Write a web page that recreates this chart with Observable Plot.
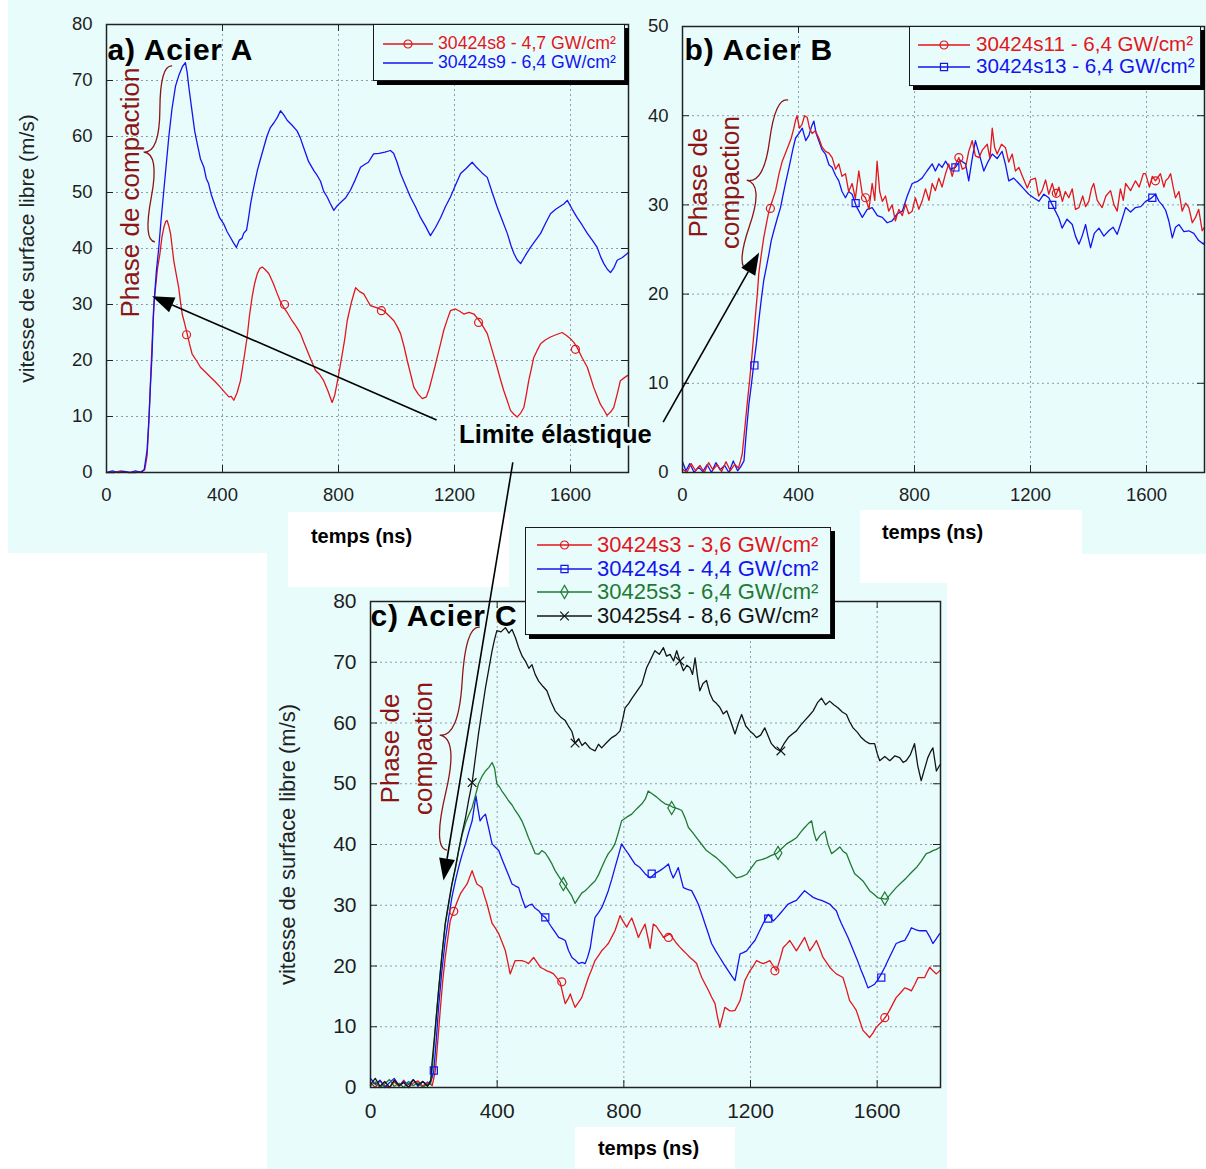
<!DOCTYPE html>
<html><head><meta charset="utf-8">
<script src="https://cdn.jsdelivr.net/npm/d3@7"></script>
<script src="https://cdn.jsdelivr.net/npm/@observablehq/plot@0.6"></script>
<style>
body{margin:0;background:#fff;font-family:"Liberation Sans",Arial,Helvetica,sans-serif;}
#page{position:relative;width:1206px;height:1169px;overflow:hidden;background:#fff;}
.bg{position:absolute;background:#e8fcfc;}
.wh{position:absolute;background:#fff;}
.holder{position:absolute;}
.holder svg{max-width:none;overflow:visible;}
.legend{position:absolute;background:#e8fcfc;border:1.5px solid #1a1a1a;box-shadow:4px 4px 0 #000;box-sizing:border-box;}
.legend .row{position:absolute;left:0;height:0;}
.legend .row span{position:absolute;white-space:nowrap;transform:translateY(-52%);line-height:1;}
.legend .row svg{position:absolute;overflow:visible;}
</style></head>
<body><div id="page">
<div class="bg" style="left:8px;top:0;width:632px;height:553px"></div>
<div class="bg" style="left:640px;top:0;width:566px;height:554px"></div>
<div class="bg" style="left:267px;top:553px;width:680px;height:616px"></div>
<div class="wh" style="left:288px;top:512px;width:221px;height:75px"></div>
<div class="wh" style="left:860px;top:510px;width:222px;height:73px"></div>
<div class="wh" style="left:575px;top:1127px;width:160px;height:42px"></div>
<div class="holder" id="pa" style="left:0;top:0;width:640px;height:553px"></div>
<div class="holder" id="pb" style="left:640px;top:0;width:566px;height:553px"></div>
<div class="holder" id="pc" style="left:267px;top:553px;width:680px;height:616px"></div>
</div>
<script>
// ---------------- DATA (time in ns, velocity in m/s) ----------------
const xTicks = [0, 400, 800, 1200, 1600];
const yTicksA = [0, 10, 20, 30, 40, 50, 60, 70, 80];
const yTicksB = [0, 10, 20, 30, 40, 50];
const yTicksC = [0, 10, 20, 30, 40, 50, 60, 70, 80];

// a) Acier A
const a_30424s8 = [[0,0],[25,0],[50,0.3],[75,0],[100,0],[120,0.2],[132,0.5],[140,3],[147,10],[153,18],[158,24],[163,30],[169,33],[176,36.5],[184,39],[191,42],[198,43.8],[204,44.8],[209,45],[215,44],[221,42.6],[227,40],[232,37.8],[240,35.5],[249,33],[255,30.5],[261,28.3],[270,26.5],[278,24.8],[286,23],[295,21.2],[310,20],[324,18.8],[340,18],[359,17],[375,16.2],[393,15.2],[408,14.3],[422,13.5],[430,13.6],[439,12.9],[450,14.2],[462,16.4],[473,20],[485,24.2],[493,28],[502,31.3],[511,33.8],[520,35.5],[528,36.4],[537,36.7],[548,36.2],[560,35.5],[575,33.8],[589,31.9],[600,30.5],[611,29.5],[625,28.4],[640,27.1],[655,26],[669,24.8],[680,23.3],[692,21.8],[706,20],[721,18.2],[735,17.5],[749,16.4],[764,14.5],[778,12.5],[787,13.8],[795,15.9],[804,18.5],[813,21.2],[822,24],[830,27.1],[845,30.5],[859,33],[873,32.3],[887,31.9],[898,30.9],[910,29.8],[933,29.4],[956,28.9],[974,28],[991,27.1],[1003,26],[1014,24.8],[1026,22.5],[1037,20],[1049,17.5],[1060,15.2],[1075,14],[1089,13.2],[1103,13.5],[1113,15],[1123,17],[1132,18.8],[1140,20.5],[1152,23],[1163,25.4],[1175,27.3],[1186,28.9],[1203,29.2],[1218,28.8],[1232,28.3],[1250,28.6],[1267,28.3],[1290,26.8],[1313,24.8],[1330,21.8],[1347,18.8],[1358,16.7],[1370,14.6],[1382,12.8],[1393,11.1],[1405,10.4],[1416,9.9],[1428,10.6],[1439,11.6],[1448,14],[1456,16.4],[1465,18.5],[1473,20.5],[1485,21.8],[1497,23],[1514,23.7],[1531,24.2],[1550,24.6],[1571,25],[1585,24.5],[1600,23.9],[1612,23.2],[1623,22.3],[1640,20.5],[1658,18.8],[1669,17],[1680,15.2],[1692,13.6],[1703,12.2],[1715,11.2],[1726,10.2],[1738,10.8],[1749,11.6],[1761,14],[1772,16.4],[1785,16.9],[1796,17.3],[1800,17.4]];
const a_30424s9 = [[0,0],[20,0.3],[40,0],[60,0.2],[80,0],[100,0.3],[120,0],[130,0.5],[140,4],[146,9.3],[152,16],[157,21],[161,27],[165,31],[172,36],[180,40],[188,45],[197,50],[206,55],[215,60],[226,65],[238,69],[250,71],[262,72.5],[272,73.2],[278,71.5],[284,68.8],[295,64.5],[304,61],[313,58.7],[324,56],[336,54.5],[344,52.5],[352,51.6],[362,49.5],[376,47.4],[390,45.5],[404,44.4],[416,43],[427,42],[438,41],[448,40.2],[458,41.5],[467,41.8],[473,42.7],[483,43.3],[490,45.5],[497,48],[508,51],[520,53.9],[530,55.8],[542,58],[553,60],[565,61.6],[578,62.5],[590,63.5],[600,64.6],[612,63.8],[623,62.9],[640,62],[657,61],[668,59.8],[680,58],[697,55.5],[715,53.9],[727,53],[738,52],[749,50.2],[761,49.2],[772,48],[784,46.8],[795,47.6],[807,48.2],[824,49],[841,50.4],[858,52.3],[876,54.5],[890,55],[903,55.4],[921,56.9],[940,57],[960,57.2],[979,57.5],[990,57],[1002,55.4],[1014,53.4],[1031,51.3],[1048,49.2],[1066,47.4],[1083,45.5],[1100,44],[1117,42.3],[1135,43.8],[1152,45.5],[1169,47.5],[1186,49.2],[1204,51.4],[1221,53.4],[1240,54.3],[1261,55.4],[1276,54.5],[1295,53.5],[1313,52.7],[1330,50],[1347,47.4],[1365,45],[1382,42.7],[1395,40.5],[1405,39.1],[1416,38],[1428,37.3],[1445,38.8],[1462,40.2],[1480,41.5],[1497,42.7],[1514,44.5],[1531,46.2],[1549,47],[1566,47.6],[1578,48],[1589,48.6],[1606,47],[1623,45.5],[1640,44.2],[1658,42.7],[1675,41.5],[1692,40.2],[1704,38.5],[1715,37.3],[1727,36.3],[1738,35.7],[1750,36.6],[1761,37.9],[1779,38.4],[1796,39.1],[1800,39.3]];
const a_30424s8_markers = [[276,24.6],[614,30],[948,28.9],[1283,26.8],[1617,22]];

// b) Acier B
const b_30424s11 = [[0,0.4],[15,0],[30,1.0],[45,0.2],[60,0.8],[75,0],[90,1.1],[105,0.3],[120,0.9],[135,0.1],[150,1.2],[165,0.2],[180,0.9],[193,0.5],[200,1.3],[206,2.1],[215,5],[223,7.7],[232,10.5],[240,13.3],[246,15.5],[252,17.8],[258,20],[263,22.3],[272,24.5],[280,26.3],[290,28],[298,29.3],[310,30.5],[321,31.6],[333,33.5],[344,34.9],[355,35.8],[367,36.8],[375,37.5],[384,38.6],[390,39.5],[395,40],[403,38.6],[412,39],[421,40],[430,39.8],[438,38.6],[447,38],[458,38.3],[470,37.5],[481,36.5],[493,36],[505,35.8],[516,35.3],[528,34],[539,34.6],[550,33.2],[562,33.5],[573,31.5],[585,32.4],[596,30.7],[608,33.8],[620,31.2],[631,30.8],[643,29.5],[654,32.4],[663,30.5],[671,34.9],[680,31.5],[689,30.4],[700,31],[711,29.3],[723,30],[734,28.2],[746,29.5],[758,28.8],[769,30.1],[780,29],[792,29.3],[803,30.8],[815,29.5],[826,30.4],[838,31.8],[850,30.5],[861,32.4],[872,31.6],[884,33],[895,32],[907,33.5],[918,34.6],[930,33.2],[941,34.5],[953,35.3],[965,34],[976,34.2],[987,36],[999,37.2],[1010,35.5],[1022,35.3],[1035,36.2],[1051,36.8],[1060,35.2],[1068,38.6],[1076,36.5],[1085,35.7],[1100,36.8],[1114,36.4],[1125,34.8],[1137,35.7],[1148,33.8],[1160,34.2],[1175,33],[1189,31.9],[1200,32.8],[1217,33],[1228,31],[1240,31.6],[1252,32.8],[1263,31.2],[1275,32.4],[1287,31],[1298,32],[1310,30.4],[1320,31.5],[1332,30.8],[1344,31.8],[1355,29.5],[1367,29.7],[1380,31],[1390,29.8],[1401,30.4],[1410,31.8],[1418,32.4],[1430,30.5],[1447,29.7],[1460,31],[1476,31.6],[1488,30],[1499,29.3],[1510,31.8],[1520,30.5],[1528,32.4],[1545,31.6],[1562,32.7],[1575,32],[1589,33.5],[1597,33.5],[1610,32],[1620,33.2],[1631,32.7],[1648,33.5],[1660,32],[1666,32.7],[1675,33],[1683,33.5],[1692,32],[1700,30.8],[1712,31.5],[1723,29.3],[1735,30.2],[1746,29.7],[1758,28],[1769,28.6],[1780,29.5],[1792,27.1],[1800,27.5]];
const b_30424s13 = [[0,1.2],[12,0.2],[25,1.0],[40,0],[55,0.6],[70,0.1],[85,0.9],[100,0],[115,1.1],[130,0.3],[145,0.8],[160,0],[175,1.3],[190,0.2],[200,0.6],[212,1.3],[220,4.5],[229,7.7],[238,10],[246,12.2],[255,14.5],[263,17],[272,19.5],[280,21.5],[289,23],[298,24.5],[306,26],[315,27.1],[327,28.5],[338,29.7],[346,31],[355,32.4],[364,33.7],[372,34.9],[381,36.3],[390,37.5],[401,38],[413,38.6],[425,37.2],[436,37.8],[445,38.8],[453,39.4],[461,38],[470,37.2],[481,36.2],[493,35.7],[505,34.5],[516,34.2],[528,33.3],[539,32.7],[550,31.5],[562,30.8],[573,31.5],[585,31.2],[600,29.8],[620,28.6],[637,29.5],[654,29.7],[672,28.8],[689,28.6],[706,28],[723,28.2],[740,29],[758,29.3],[775,31],[792,32.4],[809,32.6],[826,33],[843,33.8],[861,34.6],[872,33.8],[884,34.6],[895,34.2],[907,34.9],[924,34],[941,34.2],[958,35],[976,34.6],[987,32.7],[998,35],[1010,37.2],[1025,35.5],[1039,33.8],[1053,34.8],[1068,35.7],[1085,35.2],[1102,36],[1114,34.5],[1125,32.7],[1142,33],[1160,32.4],[1177,31.8],[1194,31.2],[1211,30.8],[1229,30.4],[1246,31.2],[1263,30.8],[1275,30],[1286,29.3],[1298,28.5],[1309,27.4],[1326,28.4],[1344,27.8],[1355,26.5],[1367,25.6],[1378,26.5],[1390,27.8],[1398,26.5],[1407,25.2],[1420,26.8],[1436,27.4],[1453,26.5],[1470,27.1],[1485,27.5],[1499,26.7],[1514,28.2],[1528,29.7],[1545,29.2],[1562,29.7],[1580,29.8],[1597,30.4],[1614,30.7],[1631,31.2],[1643,30.4],[1654,30],[1666,29.4],[1677,28.2],[1689,26.3],[1700,27.5],[1712,27.8],[1729,27],[1746,27.1],[1763,26.8],[1780,26],[1797,25.6],[1800,25.8]];
const b_30424s11_markers = [[303,29.6],[631,30.8],[953,35.3],[1289,31.3],[1631,32.7]];
const b_30424s13_markers = [[248,12.0],[597,30.2],[941,34.2],[1275,30],[1620,30.8]];

// c) Acier C
const c_30424s3 = [[0,0.8],[15,0],[30,1.1],[45,0.3],[60,0],[75,0.9],[90,0.2],[105,1.2],[120,0],[135,0.7],[150,1.1],[165,0.2],[180,0.9],[195,0.3],[205,2.8],[213,8],[221,13.2],[228,17.5],[236,21.4],[244,24.5],[252,27.5],[263,29.1],[273,30.5],[284,31.9],[294,32.7],[305,33.5],[313,34.6],[321,35.7],[328,34.6],[336,33.5],[344,33.2],[352,32.9],[360,31.5],[368,30.2],[376,28.6],[384,27],[395,26.2],[405,25.3],[415,24],[426,22.5],[434,20.5],[441,18.7],[449,19.8],[457,20.9],[468,20.9],[478,20.9],[489,20.7],[499,20.4],[507,20.9],[515,21.4],[526,20.6],[536,19.8],[547,19.5],[557,19.2],[568,19],[578,18.7],[589,18],[599,17.3],[607,15.5],[615,13.8],[623,14.5],[631,15.4],[638,14.3],[646,13.2],[657,14],[667,14.8],[678,16.5],[688,18.1],[699,19.5],[709,20.9],[720,21.7],[730,22.5],[741,23.1],[751,23.7],[762,24.8],[772,25.8],[780,27],[788,28.3],[798,27.3],[809,26.4],[817,27.2],[825,27.9],[836,26.3],[846,24.7],[856,25.8],[867,26.9],[875,24.9],[883,22.9],[893,26.9],[903,26.5],[909,26],[917,25.4],[925,24.7],[935,25],[946,25.3],[956,24.5],[967,23.7],[977,23.1],[988,22.5],[998,22],[1009,21.4],[1020,20.9],[1030,20.4],[1038,19.2],[1046,18.1],[1057,17],[1067,16],[1077,14.9],[1088,13.8],[1095,11.8],[1103,9.9],[1111,11.5],[1119,13.2],[1127,12.9],[1135,12.6],[1143,12.6],[1151,12.7],[1159,13.5],[1167,14.3],[1175,16],[1182,17.6],[1190,18.4],[1198,19.2],[1209,20],[1219,20.9],[1230,20.6],[1240,20.4],[1250,20.6],[1261,20.9],[1272,20],[1282,19.2],[1293,21.1],[1303,23],[1314,23.6],[1324,24.2],[1335,23.3],[1345,22.5],[1358,23.6],[1371,24.7],[1379,23.6],[1387,22.5],[1398,23.3],[1408,24.2],[1419,22.8],[1429,21.4],[1440,20.6],[1450,19.8],[1461,19.2],[1471,18.7],[1482,18.4],[1492,18.1],[1503,16.2],[1513,14.3],[1524,13.5],[1534,12.7],[1545,11],[1555,9.4],[1566,8.8],[1576,8.2],[1587,9],[1597,9.9],[1608,10.5],[1618,11],[1629,11.8],[1639,12.7],[1650,13.8],[1660,14.8],[1674,15.6],[1687,16.4],[1698,16.2],[1708,15.9],[1719,17],[1729,18.1],[1740,18.1],[1750,18.1],[1758,19],[1766,19.8],[1776,19.2],[1787,18.7],[1797,19.2],[1800,19.3]];
const c_30424s4 = [[0,1.5],[15,0.5],[30,1.2],[45,0],[60,0.8],[75,1.5],[90,0.3],[105,1],[120,0.5],[135,1.3],[150,0.2],[165,1],[180,0.4],[194,1.5],[200,2.8],[208,8],[215,13.2],[225,19],[236,24.2],[247,28],[257,31.3],[268,34],[278,36.2],[289,38.3],[300,40.1],[310,42],[321,43.9],[327,46],[333,48],[339,46],[346,43.9],[354,44.5],[363,45],[374,42.5],[384,40.1],[395,39.5],[405,39],[416,37.5],[426,36.2],[437,34.8],[447,33.5],[457,33.2],[468,32.9],[478,31.2],[489,29.6],[500,30],[510,30.2],[520,29.5],[531,29.1],[541,28.4],[552,28],[562,27.2],[573,26.3],[584,25.5],[594,24.7],[604,24.5],[615,24.2],[625,22.6],[636,21.4],[646,21],[657,20.4],[668,20.6],[678,20.4],[686,21.5],[694,23],[701,25.5],[709,28],[720,28.8],[730,29.6],[741,31],[751,32.4],[762,34.3],[772,36.2],[783,38.2],[793,40.1],[804,39.2],[814,38.5],[825,37.6],[835,36.8],[851,36.2],[867,35.2],[883,34.5],[898,35.2],[914,35.7],[928,36.2],[941,36.8],[948,35.5],[956,34.5],[964,35.3],[972,36.2],[980,34.5],[988,32.9],[1001,32.6],[1014,32.4],[1025,31.3],[1035,30.2],[1046,28.6],[1056,27],[1067,25.3],[1077,23.7],[1090,22.5],[1103,21.4],[1116,20.3],[1130,19.2],[1140,18.4],[1151,17.6],[1159,19.8],[1167,22],[1177,22.2],[1188,22.5],[1201,23.4],[1214,24.2],[1227,25.6],[1240,27],[1248,27.8],[1256,28.5],[1264,28],[1272,27.4],[1283,28],[1293,28.6],[1306,29.4],[1319,30.2],[1332,30.5],[1345,30.8],[1358,31.6],[1371,32.4],[1385,31.8],[1398,31.3],[1411,31],[1424,30.8],[1437,30.5],[1450,30.2],[1461,29.6],[1471,29.1],[1479,28],[1487,27],[1498,25.8],[1508,24.7],[1519,23.3],[1529,22],[1540,20.6],[1550,19.2],[1561,17.8],[1571,16.4],[1582,16.7],[1592,17],[1603,17.8],[1613,18.7],[1624,19.8],[1634,20.9],[1647,22.3],[1660,23.7],[1674,24],[1687,24.2],[1698,25.2],[1708,26.3],[1721,26],[1734,25.8],[1745,25.8],[1755,25.8],[1766,24.8],[1776,23.7],[1787,24.5],[1797,25.3],[1800,25.4]];
const c_30425s3 = [[0,0.3],[15,0.9],[30,0],[45,0.6],[60,1.3],[75,0.2],[90,0.7],[105,0],[120,1],[135,0.3],[150,0.8],[165,0],[180,0.6],[190,0.5],[196,3.5],[205,10],[215,16],[225,21.5],[236,26.8],[247,30.2],[257,33.3],[268,36],[278,38.8],[289,41.5],[300,43.5],[310,44.8],[321,46.1],[331,48],[341,50],[352,51.2],[363,52.1],[374,52.7],[384,53.5],[392,52.5],[399,50],[407,49.5],[415,48.8],[426,48],[436,47.2],[447,46.5],[457,45.6],[468,44.8],[478,43.9],[489,42.5],[499,41.1],[510,39.8],[520,38.5],[531,38.4],[541,39],[552,38.6],[562,37.8],[573,36.8],[583,35.7],[594,34.8],[604,34],[615,33.2],[625,32.4],[636,31.5],[646,30.3],[657,31.2],[667,32],[678,32.4],[688,32.9],[699,33.5],[709,34],[720,35],[730,36.2],[741,37.5],[751,38.5],[762,39.2],[772,40.1],[783,42],[793,43.9],[809,44.5],[825,45],[841,45.9],[857,46.7],[868,47.5],[877,48.8],[888,48.4],[904,47.8],[917,47.2],[930,46.7],[943,46.5],[956,46.1],[970,45.9],[983,45.6],[994,44.3],[1004,42.8],[1017,42],[1030,41.1],[1046,40],[1061,39],[1077,38.4],[1093,37.8],[1109,37],[1125,36.2],[1140,35.3],[1156,34.5],[1172,34.7],[1188,35.1],[1203,36.2],[1219,37.3],[1235,37.5],[1251,37.8],[1266,38.2],[1282,38.5],[1298,39.3],[1314,40.1],[1330,40.6],[1345,41.1],[1358,42],[1371,42.8],[1382,43.4],[1393,43.9],[1400,42],[1408,40.6],[1420,41.5],[1435,42.2],[1445,40],[1456,38.5],[1469,39],[1482,39.6],[1492,38.9],[1503,38.5],[1516,36.8],[1529,35.2],[1542,34.6],[1555,34],[1566,33.2],[1576,32.4],[1590,31.8],[1603,31.2],[1616,31.1],[1629,31],[1645,32],[1660,32.9],[1676,33.7],[1692,34.5],[1708,35.4],[1724,36.2],[1740,37.3],[1755,38.5],[1766,38.7],[1776,39],[1787,39.2],[1797,39.5],[1800,39.6]];
const c_30425s4 = [[0,0.5],[15,1.5],[30,0.2],[45,1],[60,0],[75,1.2],[90,0.3],[105,0.8],[120,0],[135,1.3],[150,0.4],[165,1],[180,0.2],[190,1],[194,3.9],[205,10],[215,16],[225,21.5],[236,27],[247,30.5],[257,33.5],[268,36.2],[278,39],[289,41.8],[300,44.4],[310,47.3],[321,50.2],[331,54.2],[341,58.2],[352,62],[363,65.8],[374,69],[384,71.9],[392,73.8],[399,75.2],[412,75],[426,75.7],[437,74.8],[447,75.4],[458,74],[468,72.4],[479,71],[489,70.2],[500,69],[510,69.6],[520,68],[531,66.9],[545,66],[557,65.3],[570,63.5],[583,62],[600,61],[615,60.4],[625,59.5],[636,58.6],[646,56.7],[657,57.4],[668,56.3],[678,56.8],[694,55.8],[709,55.4],[720,56.5],[730,55.9],[746,56.8],[762,57.6],[775,58],[788,58.7],[796,60.5],[804,62.5],[815,63.2],[825,64],[841,65.2],[857,66.4],[872,69.1],[885,70.5],[898,71.9],[912,71.3],[925,72.4],[935,71],[946,71.3],[957,70.2],[967,71.9],[977,70.2],[988,68.6],[999,69.5],[1009,69.1],[1017,68],[1025,70.7],[1033,67.5],[1040,65.3],[1050,66.5],[1061,67],[1072,64.8],[1082,63.7],[1093,63.2],[1103,62.6],[1114,61.5],[1125,62],[1138,60.2],[1151,58.2],[1162,60],[1172,61.4],[1185,59.5],[1198,58.7],[1209,58.2],[1219,57.6],[1232,58],[1245,59.2],[1256,57.8],[1266,56.6],[1280,55.8],[1293,55.4],[1306,56.6],[1319,57.6],[1332,58.2],[1345,58.7],[1358,59.6],[1371,60.4],[1385,61.2],[1398,62],[1411,63.3],[1424,64.1],[1437,63],[1450,63.6],[1463,63],[1476,62.5],[1490,61.8],[1503,61.4],[1513,60.2],[1524,59.2],[1537,58.5],[1550,57.6],[1563,57],[1576,56.6],[1592,56.6],[1600,55],[1608,53.8],[1624,54.5],[1640,53.8],[1656,54.6],[1671,54.3],[1682,53.5],[1692,53.8],[1705,54.8],[1718,56.6],[1728,53],[1739,50.5],[1750,52.5],[1760,54.3],[1768,55.2],[1776,55.9],[1787,52.1],[1797,53],[1800,53.2]];
const c_30424s3_markers = [[263,29],[604,17.4],[941,24.7],[1277,19.2],[1624,11.5]];
const c_30424s4_markers = [[200,2.8],[552,28],[888,35.2],[1256,27.8],[1613,18.1]];
const c_30425s3_markers = [[609,33.5],[951,46],[1287,38.6],[1624,31.1]];
const c_30425s4_markers = [[321,50.2],[646,56.7],[977,70.2],[1296,55.4]];

// legend labels
const legendA = ["30424s8 - 4,7 GW/cm²", "30424s9 - 6,4 GW/cm²"];
const legendB = ["30424s11 - 6,4 GW/cm²", "30424s13 - 6,4 GW/cm²"];
const legendC = ["30424s3 - 3,6 GW/cm²", "30424s4 - 4,4 GW/cm²", "30425s3 - 6,4 GW/cm²", "30425s4 - 8,6 GW/cm²"];

// annotations (data units of each panel): brace tips, arrow ends
const braceA = {x1: 228, y1: 72.5, x2: 169, y2: 41.1, w: 20};
const braceB = {x1: 366, y1: 41.7, x2: 228, y2: 22.6, w: 22};
const braceC = {x1: 347, y1: 75.7, x2: 243, y2: 39.0, w: 24};
const arrowA = {x1: 1140, y1: 9.3, x2: 159, y2: 31.4};
const arrowB = {x1: -65, y1: 5.6, x2: 266, y2: 24.6};
const arrowC = {x1: 451, y1: 102.8, x2: 232, y2: 34};

// ---------------- STYLE ----------------
const FONT = '"Liberation Sans", Arial, Helvetica, sans-serif';
const CYAN = "#e8fcfc", RED = "#e3161d", BLUE = "#1414f0", GREEN = "#1f7a33", BLACK = "#141414", DARKRED = "#8f1414", GRID = "#8d9cb0";

function arrowsMark(arrows) {
  return (index, scales) => {
    const g = d3.create("svg:g");
    for (const a of arrows) {
      const x1 = scales.x(a.x1), y1 = scales.y(a.y1), x2 = scales.x(a.x2), y2 = scales.y(a.y2);
      const ang = Math.atan2(y2 - y1, x2 - x1), L = 22, W = 8;
      const bx = x2 - L * Math.cos(ang), by = y2 - L * Math.sin(ang);
      g.append("line").attr("x1", x1).attr("y1", y1).attr("x2", bx).attr("y2", by)
        .attr("stroke", "#000").attr("stroke-width", 1.6);
      g.append("path").attr("fill", "#000")
        .attr("d", `M${x2},${y2}L${bx + W * Math.sin(ang)},${by - W * Math.cos(ang)}L${bx - W * Math.sin(ang)},${by + W * Math.cos(ang)}Z`);
    }
    return g.node();
  };
}

// curly brace "{" between two tips, bulging (cusp) to the left of the top->bottom direction
function braceMark(b) {
  return (index, scales) => {
    const x1 = scales.x(b.x1), y1 = scales.y(b.y1), x2 = scales.x(b.x2), y2 = scales.y(b.y2);
    let dx = x1 - x2, dy = y1 - y2;
    const len = Math.hypot(dx, dy); dx /= len; dy /= len;
    const w = b.w, q = 0.6;
    const qx1 = x1 + q * w * dy, qy1 = y1 - q * w * dx;
    const qx2 = (x1 - .25 * len * dx) + (1 - q) * w * dy, qy2 = (y1 - .25 * len * dy) - (1 - q) * w * dx;
    const tx1 = (x1 - .5 * len * dx) + w * dy, ty1 = (y1 - .5 * len * dy) - w * dx;
    const qx3 = x2 + q * w * dy, qy3 = y2 - q * w * dx;
    const qx4 = (x1 - .75 * len * dx) + (1 - q) * w * dy, qy4 = (y1 - .75 * len * dy) - (1 - q) * w * dx;
    const d = `M${x1},${y1}Q${qx1},${qy1} ${qx2},${qy2}T${tx1},${ty1}M${x2},${y2}Q${qx3},${qy3} ${qx4},${qy4}T${tx1},${ty1}`;
    const g = d3.create("svg:g");
    g.append("path").attr("d", d).attr("fill", "none").attr("stroke", DARKRED).attr("stroke-width", 1.3);
    return g.node();
  };
}

function panel(cfg) {
  const {w, h, ml, mr, mt, mb, yMax, yTicks, tickFont, xPad, series, marks} = cfg;
  const fw = w - ml - mr, fh = h - mt - mb;
  const tx = 1800 * 7 / fw, ty = yMax * 7 / fh;
  const lines = [], dots = [];
  for (const s of series) {
    lines.push(Plot.line(s.data, {x: d => d[0], y: d => d[1], stroke: s.color, strokeWidth: 1.3, curve: "linear"}));
    if (s.markers) dots.push(Plot.dot(s.markers, {x: d => d[0], y: d => d[1], symbol: s.symbol, r: 4, stroke: s.color, fill: "none", strokeWidth: 1.2}));
  }
  return Plot.plot({
    width: w, height: h, marginLeft: ml, marginRight: mr, marginTop: mt, marginBottom: mb,
    style: {overflow: "visible", background: "transparent", fontFamily: FONT, color: "#1e1e1e"},
    x: {domain: [0, 1800], axis: null},
    y: {domain: [0, yMax], axis: null},
    marks: [
      Plot.gridX(xTicks, {stroke: GRID, strokeOpacity: 1, strokeDasharray: "2,3", strokeWidth: 1}),
      Plot.gridY(yTicks, {stroke: GRID, strokeOpacity: 1, strokeDasharray: "2,3", strokeWidth: 1}),
      Plot.axisX(xTicks, {anchor: "bottom", tickSize: 0, tickPadding: xPad, fontSize: tickFont, label: null, tickFormat: d => String(d)}),
      Plot.axisY(yTicks, {anchor: "left", tickSize: 0, tickPadding: 14, fontSize: tickFont, label: null, tickFormat: d => String(d)}),
      Plot.ruleY(yTicks, {x1: 0, x2: tx, stroke: "#222"}),
      Plot.ruleY(yTicks, {x1: 1800 - tx, x2: 1800, stroke: "#222"}),
      Plot.ruleX(xTicks, {y1: 0, y2: ty, stroke: "#222"}),
      Plot.ruleX(xTicks, {y1: yMax - ty, y2: yMax, stroke: "#222"}),
      ...lines, ...dots,
      Plot.frame({stroke: "#222", strokeWidth: 1.5}),
      ...marks
    ]
  });
}

const txt = d => d;
function spaceTitle(plot, label, px) {
  d3.select(plot).selectAll("text").filter(function () { return this.textContent === label; }).style("letter-spacing", px + "px");
}

// ---- panel a
const plotA = panel({
  w: 640, h: 553, ml: 106, mr: 12, mt: 24, mb: 81, yMax: 80, yTicks: yTicksA, tickFont: 18.5, xPad: 15,
  series: [
    {data: a_30424s8, color: RED, markers: a_30424s8_markers, symbol: "circle"},
    {data: a_30424s9, color: BLUE}
  ],
  marks: [
    Plot.text(["a) Acier A"], {text: txt, frameAnchor: "top-left", lineAnchor: "top", dx: 1, dy: 14, fontSize: 30, fontWeight: "bold", fill: "#000"}),
    Plot.text(["vitesse de surface libre (m/s)"], {text: txt, frameAnchor: "left", textAnchor: "middle", rotate: -90, dx: -79, fontSize: 21, fill: "#222"}),
    Plot.text(["temps (ns)"], {text: txt, frameAnchor: "bottom", dx: -6, dy: 70, fontSize: 20, fontWeight: "bold", fill: "#000"}),
    braceMark(braceA),
    Plot.text(["Phase de compaction"], {text: txt, x: () => 83, y: () => 50, rotate: -90, fontSize: 26, fill: DARKRED}),
    Plot.text(["Limite élastique"], {text: txt, x: () => 1548, y: () => 6.8, fontSize: 25.5, fontWeight: "bold", fill: "#000", stroke: CYAN, strokeWidth: 5}),
    arrowsMark([arrowA])
  ]
});
spaceTitle(plotA, "a) Acier A", 0.8);
document.getElementById("pa").append(plotA);

// ---- panel b
const plotB = panel({
  w: 566, h: 553, ml: 42, mr: 2, mt: 26, mb: 81, yMax: 50, yTicks: yTicksB, tickFont: 18.5, xPad: 15,
  series: [
    {data: b_30424s13, color: BLUE, markers: b_30424s13_markers, symbol: "square"},
    {data: b_30424s11, color: RED, markers: b_30424s11_markers, symbol: "circle"}
  ],
  marks: [
    Plot.text(["b) Acier B"], {text: txt, frameAnchor: "top-left", lineAnchor: "top", dx: 2, dy: 12, fontSize: 30, fontWeight: "bold", fill: "#000"}),
    Plot.text(["temps (ns)"], {text: txt, frameAnchor: "bottom", dx: -11, dy: 66, fontSize: 20, fontWeight: "bold", fill: "#000"}),
    braceMark(braceB),
    Plot.text(["Phase de\ncompaction"], {text: txt, x: () => 104, y: () => 32.5, rotate: -90, fontSize: 26, lineHeight: 1.25, fill: DARKRED}),
    arrowsMark([arrowB])
  ]
});
spaceTitle(plotB, "b) Acier B", 0.8);
document.getElementById("pb").append(plotB);

// ---- panel c
const plotC = panel({
  w: 680, h: 616, ml: 103, mr: 7, mt: 48, mb: 82, yMax: 80, yTicks: yTicksC, tickFont: 21, xPad: 16,
  series: [
    {data: c_30424s3, color: RED, markers: c_30424s3_markers, symbol: "circle"},
    {data: c_30424s4, color: BLUE, markers: c_30424s4_markers, symbol: "square"},
    {data: c_30425s3, color: GREEN, markers: c_30425s3_markers, symbol: "diamond"},
    {data: c_30425s4, color: BLACK, markers: c_30425s4_markers, symbol: "times"}
  ],
  marks: [
    Plot.text(["c) Acier C"], {text: txt, frameAnchor: "top-left", lineAnchor: "top", dx: 0, dy: 3, fontSize: 30, fontWeight: "bold", fill: "#000"}),
    Plot.text(["vitesse de surface libre (m/s)"], {text: txt, frameAnchor: "left", textAnchor: "middle", rotate: -90, dx: -83, fontSize: 22, fill: "#222"}),
    Plot.text(["temps (ns)"], {text: txt, frameAnchor: "bottom", dx: -7, dy: 67, fontSize: 20, fontWeight: "bold", fill: "#000"}),
    braceMark(braceC),
    Plot.text(["Phase de\ncompaction"], {text: txt, x: () => 110, y: () => 55.8, rotate: -90, fontSize: 26, lineHeight: 1.25, fill: DARKRED}),
    arrowsMark([arrowC])
  ]
});
spaceTitle(plotC, "c) Acier C", 0.8);
document.getElementById("pc").append(plotC);

// ---------------- LEGENDS ----------------
const symbolTypes = {circle: d3.symbolCircle, square: d3.symbolSquare, diamond: d3.symbolDiamond, times: d3.symbolTimes};
function legend(box, rows) {
  const page = document.getElementById("page");
  const div = document.createElement("div");
  div.className = "legend";
  Object.assign(div.style, {left: box.left + "px", top: box.top + "px", width: box.width + "px", height: box.height + "px"});
  rows.forEach((r, i) => {
    const row = document.createElement("div");
    row.className = "row";
    row.style.top = box.rowY[i] + "px";
    const svg = d3.create("svg").attr("width", box.s1 - box.s0).attr("height", 2)
      .style("left", box.s0 + "px").style("top", "-1px");
    svg.append("line").attr("x1", 0).attr("x2", box.s1 - box.s0).attr("y1", 1).attr("y2", 1)
      .attr("stroke", r.color).attr("stroke-width", 1.3);
    if (r.symbol) {
      svg.append("path").attr("transform", `translate(${(box.s1 - box.s0) / 2},1)`)
        .attr("d", d3.symbol(symbolTypes[r.symbol], Math.PI * 16)())
        .attr("fill", "none").attr("stroke", r.color).attr("stroke-width", 1.2);
    }
    row.append(svg.node());
    const sp = document.createElement("span");
    sp.textContent = r.label;
    Object.assign(sp.style, {left: box.tx + "px", color: r.color, fontSize: box.fs + "px"});
    row.append(sp);
    div.append(row);
  });
  page.append(div);
}
legend({left: 373, top: 24, width: 252, height: 57, rowY: [19, 38], s0: 9, s1: 59, tx: 64, fs: 17.7},
  [{label: legendA[0], color: RED, symbol: "circle"}, {label: legendA[1], color: BLUE}]);
legend({left: 909, top: 26, width: 292, height: 60, rowY: [18, 40], s0: 8, s1: 60, tx: 66, fs: 20.6},
  [{label: legendB[0], color: RED, symbol: "circle"}, {label: legendB[1], color: BLUE, symbol: "square"}]);
legend({left: 525, top: 527, width: 306, height: 108, rowY: [17, 41, 64, 88], s0: 11, s1: 66, tx: 71, fs: 22},
  [{label: legendC[0], color: RED, symbol: "circle"}, {label: legendC[1], color: BLUE, symbol: "square"},
   {label: legendC[2], color: GREEN, symbol: "diamond"}, {label: legendC[3], color: BLACK, symbol: "times"}]);
</script>
</body></html>
